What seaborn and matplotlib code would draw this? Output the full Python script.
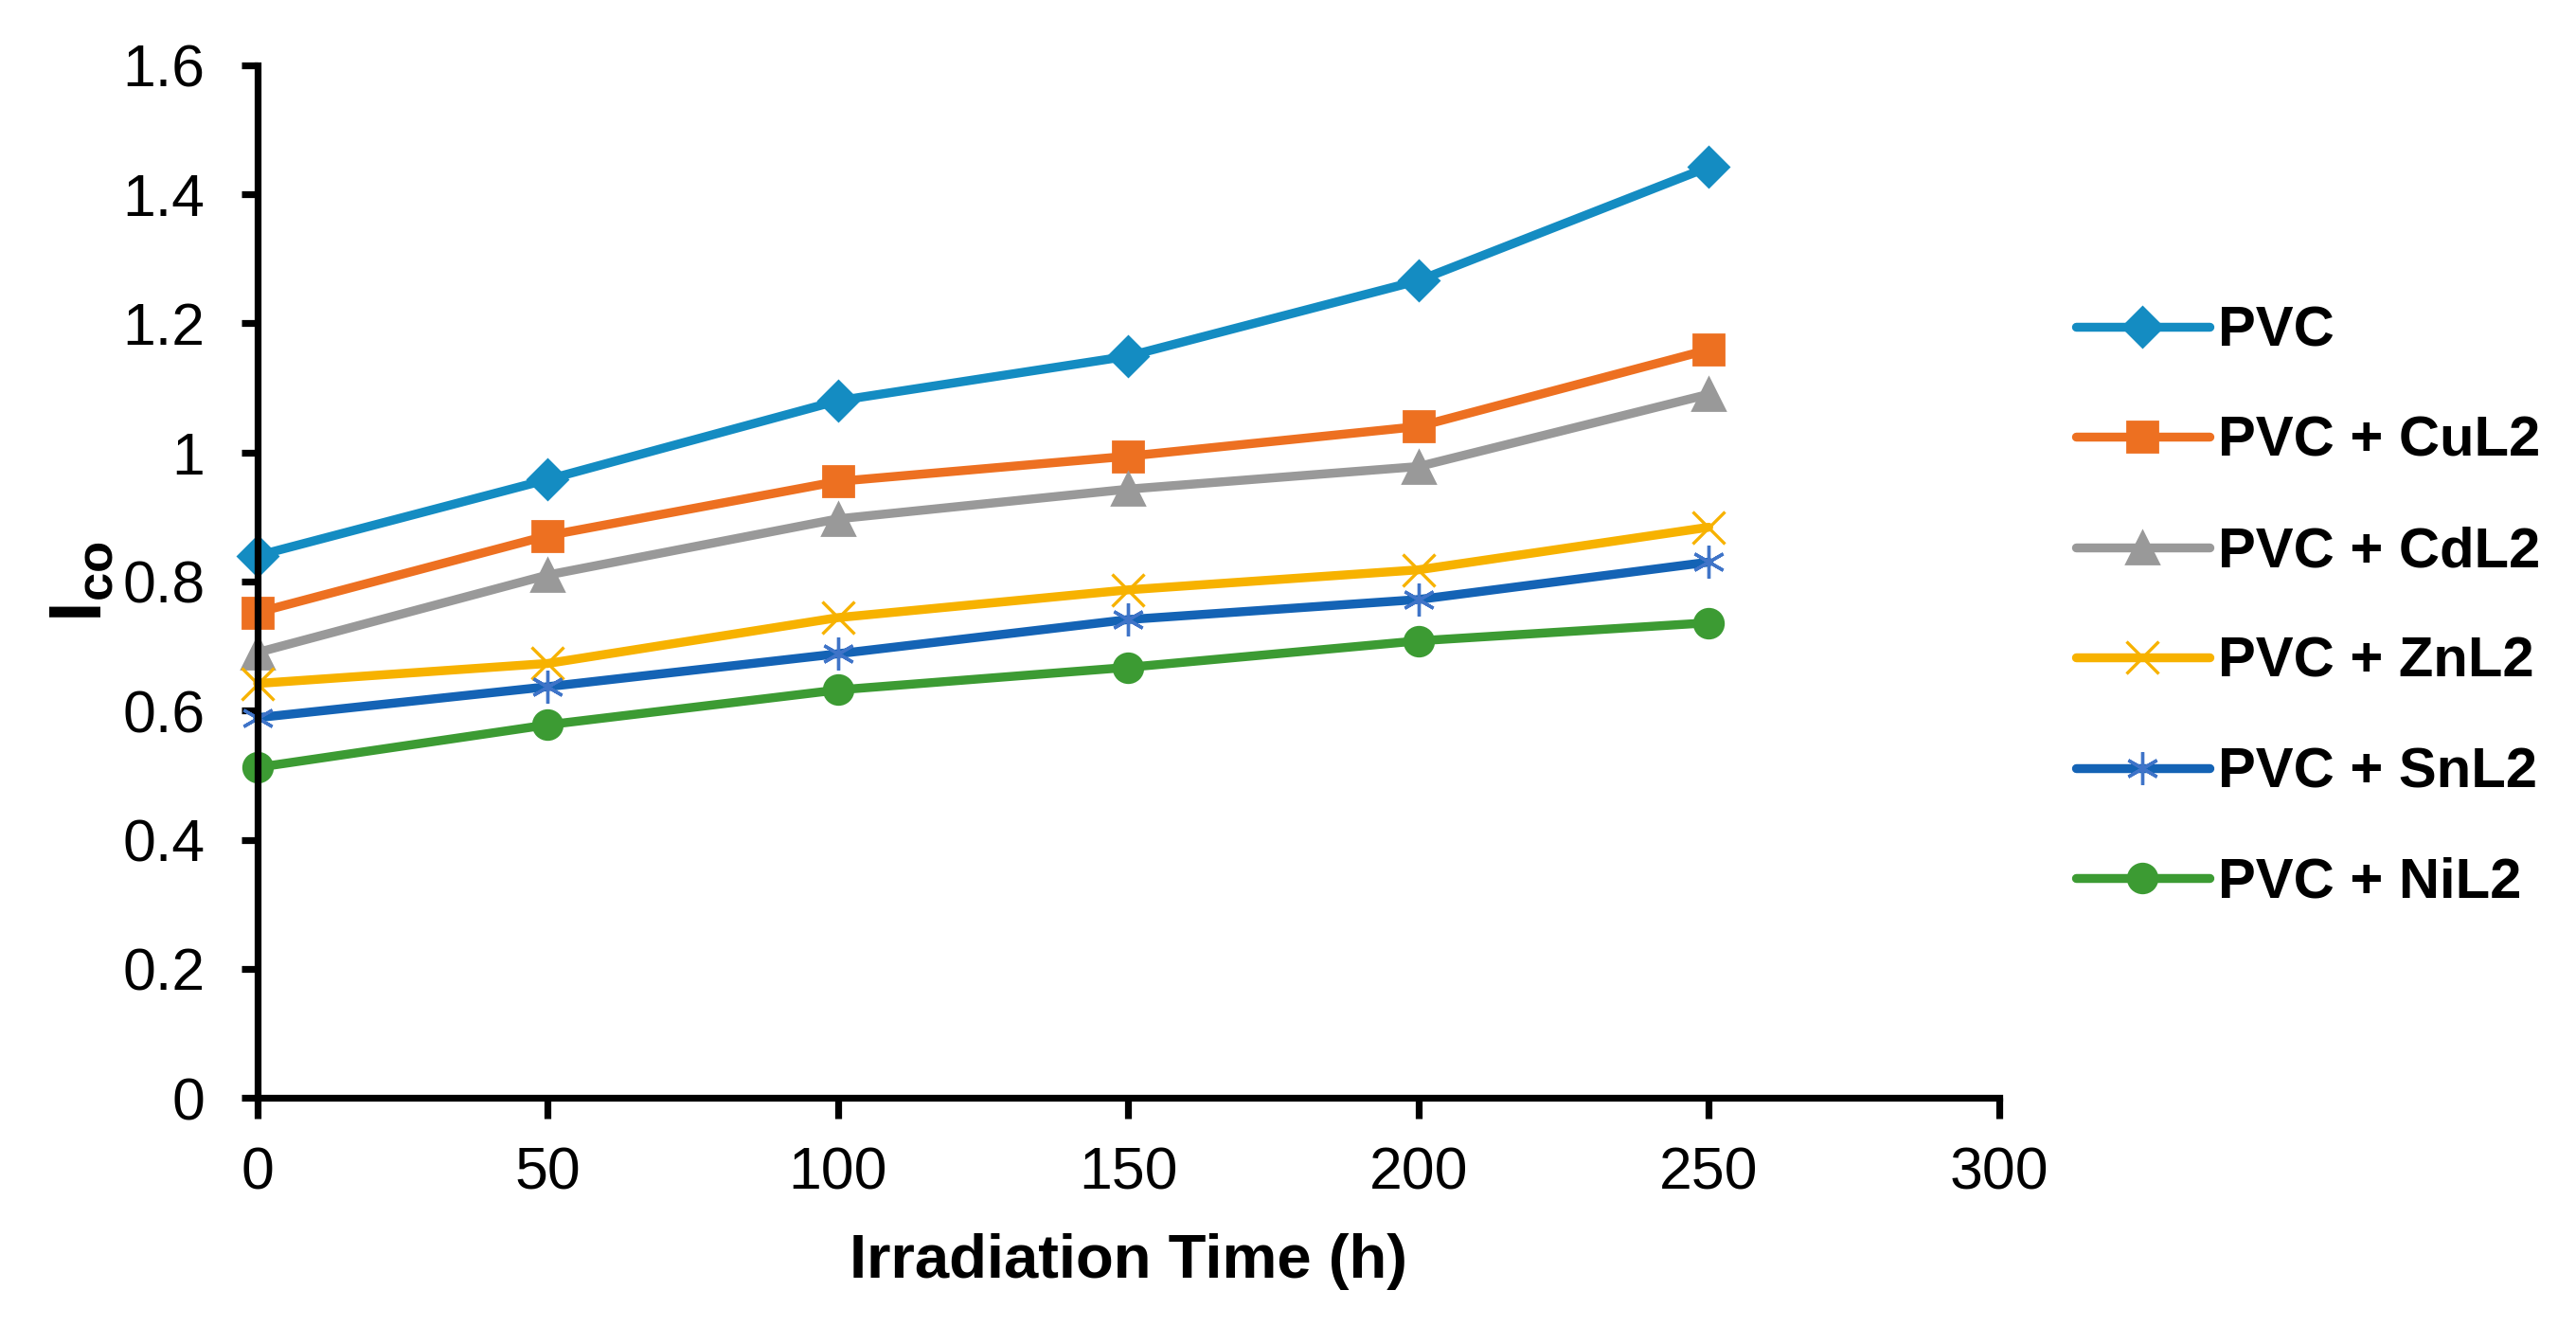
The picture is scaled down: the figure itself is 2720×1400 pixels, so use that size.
import matplotlib
matplotlib.use("Agg")
import matplotlib.pyplot as plt
import seaborn as sns
import pandas as pd
from matplotlib.ticker import FuncFormatter, MultipleLocator

time_h = [0, 50, 100, 150, 200, 250]
pvc = [0.84, 0.958, 1.08, 1.149, 1.266, 1.442]
pvc_cul2 = [0.752, 0.871, 0.955, 0.994, 1.04, 1.159]
pvc_cdl2 = [0.69, 0.81, 0.897, 0.943, 0.978, 1.09]
pvc_znl2 = [0.642, 0.673, 0.744, 0.787, 0.818, 0.884]
pvc_snl2 = [0.589, 0.637, 0.688, 0.741, 0.772, 0.83]
pvc_nil2 = [0.512, 0.578, 0.632, 0.667, 0.708, 0.736]
series_names = ["PVC", "PVC + CuL2", "PVC + CdL2", "PVC + ZnL2", "PVC + SnL2", "PVC + NiL2"]
series_values = [pvc, pvc_cul2, pvc_cdl2, pvc_znl2, pvc_snl2, pvc_nil2]
x_label = "Irradiation Time (h)"

colors = ["#148CC2", "#ED7021", "#999999", "#F7B200", "#1463B5", "#3C9B33"]
marker_edge = ["#148CC2", "#ED7021", "#999999", "#F7B200", "#3F74C8", "#3C9B33"]
markers = ["D", "s", "^", "x", (6, 2, 0), "o"]
msizes = [10.5, 11.5, 12, 12.5, 12.5, 11]
mews = [1.0, 1.0, 1.0, 1.2, 1.2, 1.0]

sns.set_theme(style="white")
plt.rcParams["font.family"] = ["Liberation Sans", "DejaVu Sans"]
plt.rcParams["mathtext.fontset"] = "custom"
plt.rcParams["mathtext.rm"] = "Liberation Sans"
plt.rcParams["mathtext.bf"] = "Liberation Sans:bold"

fig = plt.figure(figsize=(13.6, 7.0), dpi=200)
ax = fig.add_axes([0.1, 0.172, 0.676, 0.779])

for name, vals, c, mc, m, ms, mew in zip(series_names, series_values, colors, marker_edge,
                                         markers, msizes, mews):
    df = pd.DataFrame({"t": time_h, "v": vals})
    sns.lineplot(data=df, x="t", y="v", ax=ax, color=c, marker=m, markersize=ms,
                 markeredgewidth=mew, markeredgecolor=mc, markerfacecolor=mc,
                 linewidth=3.4, label=name, solid_capstyle="round")

ax.set_xlim(0, 300)
ax.set_ylim(0, 1.6)
ax.xaxis.set_major_locator(MultipleLocator(50))
ax.yaxis.set_major_locator(MultipleLocator(0.2))
ax.yaxis.set_major_formatter(FuncFormatter(lambda v, p: "%g" % round(v, 2)))
for s in ["top", "right"]:
    ax.spines[s].set_visible(False)
for s in ["left", "bottom"]:
    ax.spines[s].set_color("black")
    ax.spines[s].set_linewidth(2.6)
ax.tick_params(axis="both", direction="out", width=2.6, colors="black",
               labelcolor="black", labelsize=22.5, left=True, bottom=True)
ax.tick_params(axis="x", length=8, pad=10)
ax.tick_params(axis="y", length=6, pad=14)
ax.set_xlabel(x_label, fontsize=23.5, fontweight="bold", labelpad=12, color="black")
ax.set_ylabel(r"$\mathbf{I}_{\mathbf{co}}$", fontsize=28, labelpad=2, color="black")

for ln in ax.get_lines():
    ln.set_clip_on(False)

leg = ax.legend(loc="center left", bbox_to_anchor=(0.806, 0.542),
                bbox_transform=fig.transFigure, frameon=False,
                prop={"weight": "bold", "size": 21.5}, handlelength=2.35,
                handletextpad=0.15, labelspacing=1.03, borderpad=0, borderaxespad=0)
for t in leg.get_texts():
    t.set_color("black")

fig.savefig("out.png", dpi=200, facecolor="white")
